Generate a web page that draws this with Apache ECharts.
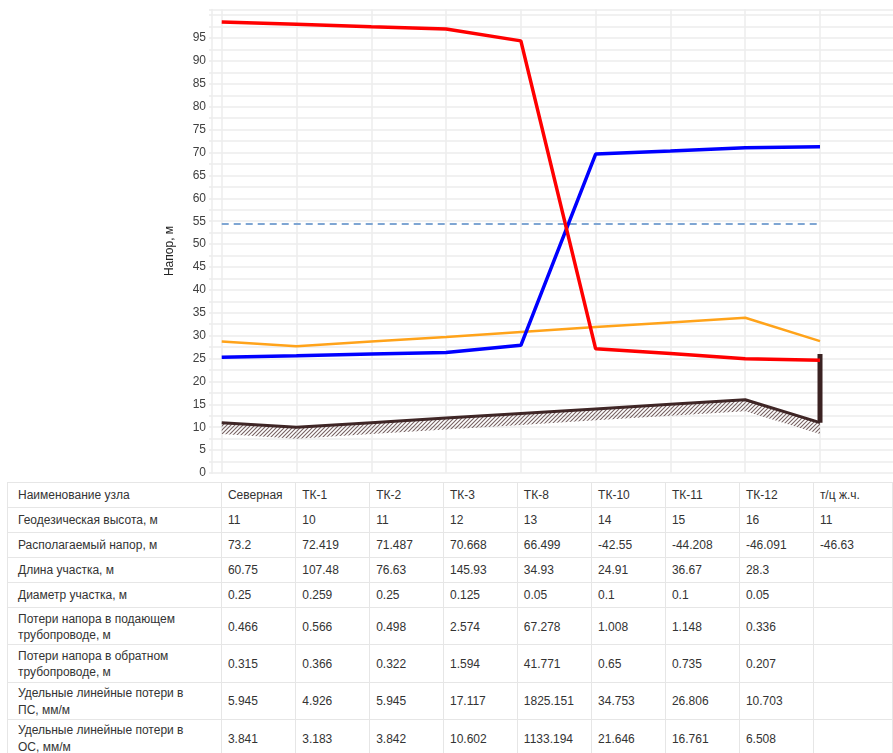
<!DOCTYPE html>
<html lang="ru">
<head>
<meta charset="utf-8">
<title>Пьезометрический график</title>
<script src="https://cdn.jsdelivr.net/npm/echarts@6/dist/echarts.min.js"></script>
<style>
  html, body { margin: 0; padding: 0; background: #fff; width: 893px; height: 753px; overflow: hidden; }
  #chart { position: absolute; left: 0; top: 0; width: 893px; height: 482px; }
  #info {
    position: absolute; left: 7px; top: 482px;
    border-collapse: collapse; table-layout: fixed;
    font-family: "Liberation Sans", Arial, sans-serif; font-size: 12px; color: #333;
  }
  #info td {
    border: 1px solid #e6e6e6; padding: 0 0 0 6px; white-space: nowrap;
    vertical-align: middle; line-height: 15px; box-sizing: border-box;
  }
  #info td.head { padding-left: 10px; }
  #info tr.single td { height: 25px; }
  #info tr.double td { height: 37.3px; padding-top: 2px; }
  #info tr.double td.head { line-height: 16.6px; }
</style>
</head>
<body>
<div id="chart"></div>
<table id="info"></table>
<script>
// Узлы трассы (точки по оси X)
const nodes = ['Северная', 'ТК-1', 'ТК-2', 'ТК-3', 'ТК-8', 'ТК-10', 'ТК-11', 'ТК-12', 'т/ц ж.ч.'];

// Напоры, м
const supplyHead = [98.5, 98.03, 97.47, 96.97, 94.4, 27.12, 26.11, 24.96, 24.63];
const returnHead = [25.3, 25.62, 25.98, 26.3, 27.9, 69.67, 70.32, 71.05, 71.26];
const staticHead = [28.7, 27.7, 28.7, 29.7, 30.8, 31.9, 32.9, 33.9, 28.8];
const limitHead = [54.4, 54.4, 54.4, 54.4, 54.4, 54.4, 54.4, 54.4, 54.4];
const groundLevel = [11, 10, 11, 12, 13, 14, 15, 16, 11];
const consumerColumn = [11, 26];      // отметки стойки потребителя (т/ц ж.ч.)
const groundHatchDepth = 2.5;         // толщина штриховки грунта, м

// Подписи оси напора
const yTickLabels = [0, 5, 10, 15, 20, 25, 30, 35, 40, 45, 50, 55, 60, 65, 70, 75, 80, 85, 90, 95];

// Таблица под графиком
const rowNodeName = 'Наименование узла';
const rowGeoHeight = ['11', '10', '11', '12', '13', '14', '15', '16', '11'];
const rowAvailHead = ['73.2', '72.419', '71.487', '70.668', '66.499', '-42.55', '-44.208', '-46.091', '-46.63'];
const rowLength = ['60.75', '107.48', '76.63', '145.93', '34.93', '24.91', '36.67', '28.3', ''];
const rowDiameter = ['0.25', '0.259', '0.25', '0.125', '0.05', '0.1', '0.1', '0.05', ''];
const rowSupplyLoss = ['0.466', '0.566', '0.498', '2.574', '67.278', '1.008', '1.148', '0.336', ''];
const rowReturnLoss = ['0.315', '0.366', '0.322', '1.594', '41.771', '0.65', '0.735', '0.207', ''];
const rowSpecSupply = ['5.945', '4.926', '5.945', '17.117', '1825.151', '34.753', '26.806', '10.703', ''];
const rowSpecReturn = ['3.841', '3.183', '3.842', '10.602', '1133.194', '21.646', '16.761', '6.508', ''];

const tableRows = [
  { title: rowNodeName, cells: nodes, cls: 'single' },
  { title: 'Геодезическая высота, м', cells: rowGeoHeight, cls: 'single' },
  { title: 'Располагаемый напор, м', cells: rowAvailHead, cls: 'single' },
  { title: 'Длина участка, м', cells: rowLength, cls: 'single' },
  { title: 'Диаметр участка, м', cells: rowDiameter, cls: 'single' },
  { title: 'Потери напора в подающем<br>трубопроводе, м', cells: rowSupplyLoss, cls: 'double' },
  { title: 'Потери напора в обратном<br>трубопроводе, м', cells: rowReturnLoss, cls: 'double' },
  { title: 'Удельные линейные потери в<br>ПС, мм/м', cells: rowSpecSupply, cls: 'double' },
  { title: 'Удельные линейные потери в<br>ОС, мм/м', cells: rowSpecReturn, cls: 'double' }
];

// --- таблица ---
(function buildTable() {
  const t = document.getElementById('info');
  let html = '<colgroup><col style="width:215px">';
  for (let i = 0; i < 8; i++) html += '<col style="width:74.75px">';
  html += '<col style="width:80px"></colgroup>';
  tableRows.forEach(r => {
    html += '<tr class="' + r.cls + '"><td class="head">' + r.title + '</td>';
    r.cells.forEach(c => { html += '<td>' + c + '</td>'; });
    html += '</tr>';
  });
  t.innerHTML = html;
})();

// --- штриховка грунта ---
function hatchPattern() {
  const c = document.createElement('canvas');
  c.width = 4; c.height = 4;
  const g = c.getContext('2d');
  g.strokeStyle = 'rgba(95,70,70,0.85)';
  g.lineWidth = 1.1;
  g.beginPath();
  g.moveTo(-1, 5); g.lineTo(5, -1);
  g.moveTo(-1, 1); g.lineTo(1, -1);
  g.moveTo(3, 5); g.lineTo(5, 3);
  g.stroke();
  return c;
}
const hatchFill = { type: 'pattern', image: hatchPattern(), repeat: 'repeat' };

const pts = arr => arr.map((v, i) => [i, v]);
// отрезки грунта: [индекс, отметка в начале, отметка в конце]
const groundSegments = groundLevel.slice(0, -1).map((v, i) => [i, v, groundLevel[i + 1]]);
const gridColor = '#ececec';

const chart = echarts.init(document.getElementById('chart'), null, { renderer: 'canvas' });
chart.setOption({
  animation: false,
  backgroundColor: '#fff',
  grid: { left: 212, right: 0, top: 9.5, bottom: 9, containLabel: false },
  xAxis: {
    type: 'value', min: -0.13, max: 8.976,
    axisLine: { show: false }, axisTick: { show: false },
    axisLabel: { show: false }, splitLine: { show: false }
  },
  yAxis: {
    type: 'value', min: 0, max: 101.25, interval: 2.5,
    axisLine: { show: true, onZero: false, lineStyle: { color: gridColor, width: 1.5 } },
    axisTick: { show: true, length: 3, lineStyle: { color: gridColor, width: 1.5 } },
    axisLabel: {
      margin: 6, color: '#404040', fontSize: 12,
      fontFamily: '"Liberation Sans", Arial, sans-serif',
      formatter: v => (yTickLabels.indexOf(v) >= 0 ? String(v) : '')
    },
    splitLine: { show: true, lineStyle: { color: gridColor, width: 1.5 } }
  },
  graphic: [{
    type: 'text', x: 170, y: 251, rotation: Math.PI / 2,
    style: {
      text: 'Напор, м', fill: '#222', font: '12px "Liberation Sans", Arial, sans-serif',
      textAlign: 'center', textVerticalAlign: 'middle'
    }
  }],
  series: [
    {
      // вертикальные линии узлов
      type: 'line', data: [], silent: true, z: 0, zlevel: 0,
      markLine: {
        silent: true, symbol: 'none', label: { show: false }, z: 0,
        lineStyle: { color: gridColor, width: 1.5, type: 'solid' },
        data: nodes.map((n, i) => ({ xAxis: i }))
      }
    },
    {
      name: 'Грунт', type: 'custom', silent: true, z: 2,
      data: groundSegments,
      encode: { x: 0, y: 1 },
      renderItem: (params, api) => {
        const i = api.value(0), a = api.value(1), b = api.value(2);
        const d = groundHatchDepth;
        return {
          type: 'polygon',
          shape: { points: [api.coord([i, a]), api.coord([i + 1, b]), api.coord([i + 1, b - d]), api.coord([i, a - d])] },
          style: { fill: hatchFill, stroke: null }
        };
      }
    },
    {
      name: 'Отметка земли', type: 'line', symbol: 'none', z: 3,
      data: pts(groundLevel),
      lineStyle: { color: '#3f2626', width: 3 }
    },
    {
      name: 'Потребитель', type: 'line', symbol: 'none', z: 3,
      data: consumerColumn.map(v => [8, v]),
      lineStyle: { color: '#3b2222', width: 5 }
    },
    {
      name: 'Допустимый напор', type: 'line', symbol: 'none', z: 3,
      data: pts(limitHead),
      lineStyle: { color: '#7fa6d3', width: 2, type: [7, 5] }
    },
    {
      name: 'Статический напор', type: 'line', symbol: 'none', z: 3,
      data: pts(staticHead),
      lineStyle: { color: '#ffa31a', width: 2.5 }
    },
    {
      name: 'Обратный', type: 'line', symbol: 'none', z: 3,
      data: pts(returnHead),
      lineStyle: { color: '#0000ff', width: 3.5 }
    },
    {
      name: 'Подающий', type: 'line', symbol: 'none', z: 4,
      data: pts(supplyHead),
      lineStyle: { color: '#ff0000', width: 3.5 }
    }
  ]
});
</script>
</body>
</html>
